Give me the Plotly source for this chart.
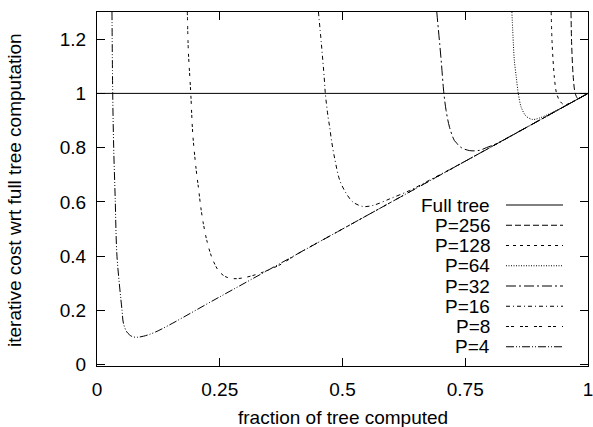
import plotly.graph_objects as go

# ---- data ----
full_x = [0.0, 1.0]
full_y = [1.0, 1.0]

p256_x = [0.9654, 0.9667, 0.970, 0.974, 0.979, 0.985, 1.0]
p256_y = [1.30, 1.182, 1.059, 1.0, 0.982, 0.985, 1.0]

p128_x = [0.925, 0.927, 0.9315, 0.936, 0.943, 0.952, 0.97, 1.0]
p128_y = [1.30, 1.182, 1.059, 1.0, 0.971, 0.958, 0.97, 1.0]

p64_x = [0.845, 0.848, 0.850, 0.854, 0.858, 0.864, 0.874, 0.887, 0.901, 0.95, 1.0]
p64_y = [1.30, 1.182, 1.121, 1.059, 1.0, 0.949, 0.916, 0.904, 0.909, 0.95, 1.0]

p32_x = [0.692, 0.698, 0.701, 0.7065, 0.711, 0.718, 0.728, 0.735, 0.742, 0.759, 0.779, 0.793, 0.813, 0.854, 0.90, 1.0]
p32_y = [1.30, 1.182, 1.121, 1.0, 0.937, 0.875, 0.826, 0.812, 0.800, 0.789, 0.790, 0.800, 0.814, 0.854, 0.90, 1.0]

p16_x = [0.451, 0.457, 0.4627, 0.465, 0.4707, 0.474, 0.4776, 0.4843, 0.4945, 0.508, 0.5215, 0.5419, 0.5622, 0.596, 0.6368, 0.674, 0.75, 1.0]
p16_y = [1.30, 1.182, 1.059, 1.0, 0.912, 0.875, 0.826, 0.758, 0.679, 0.630, 0.599, 0.583, 0.587, 0.611, 0.642, 0.677, 0.75, 1.0]

p8_x = [0.184, 0.186, 0.191, 0.195, 0.2018, 0.2065, 0.2114, 0.2167, 0.2236, 0.2337, 0.2472, 0.2608, 0.2776, 0.298, 0.332, 0.3726, 0.41, 0.5, 0.75, 1.0]
p8_y = [1.30, 1.158, 1.0, 0.851, 0.722, 0.654, 0.580, 0.519, 0.458, 0.396, 0.347, 0.325, 0.317, 0.320, 0.337, 0.368, 0.41, 0.5, 0.75, 1.0]

p4_x = [0.0305, 0.032, 0.034, 0.037, 0.0407, 0.051, 0.054, 0.061, 0.071, 0.081, 0.095, 0.12, 0.25, 0.5, 0.75, 1.0]
p4_y = [1.30, 1.0, 0.80, 0.617, 0.40, 0.20, 0.151, 0.120, 0.104, 0.101, 0.105, 0.121, 0.25, 0.5, 0.75, 1.0]

series_names = ["Full tree", "P=256", "P=128", "P=64", "P=32", "P=16", "P=8", "P=4"]
series_x = [full_x, p256_x, p128_x, p64_x, p32_x, p16_x, p8_x, p4_x]
series_y = [full_y, p256_y, p128_y, p64_y, p32_y, p16_y, p8_y, p4_y]
dashes = ["solid", "6px,3px", "3px,4px", "1px,1.5px", "10px,3px,2px,3px",
          "4px,3px,1px,3px", "3px,2px,3px,6px", "8px,2px,1px,2px,1px,2px"]

x_ticks = [0, 0.25, 0.5, 0.75, 1]
x_tick_labels = ["0", "0.25", "0.5", "0.75", "1"]
y_ticks = [0, 0.2, 0.4, 0.6, 0.8, 1.0, 1.2]
y_tick_labels = ["0", "0.2", "0.4", "0.6", "0.8", "1", "1.2"]

FONT = "Liberation Sans, Arial, sans-serif"
FS = 19

fig = go.Figure()
for name, xs, ys, d in zip(series_names, series_x, series_y, dashes):
    fig.add_trace(go.Scatter(
        x=xs, y=ys, mode="lines", name=name,
        line=dict(color="black", width=1, dash=d,
                  shape="linear" if name == "Full tree" else "spline", smoothing=0.9),
        showlegend=False, cliponaxis=True,
    ))

W, H = 593, 427
L, R, T, B = 97, 5, 12, 61
pw, ph = W - L - R, H - T - B

def px2paper(px, py):
    return (px - L) / pw, (H - B - py) / ph

# manual gnuplot-style legend: text right-aligned, sample line to the right
row0, step = 205, 20.25
for i, (name, d) in enumerate(zip(series_names, dashes)):
    py = row0 + i * step
    tx, ty = px2paper(492, py)
    fig.add_annotation(x=tx, y=ty, xref="paper", yref="paper", text=name,
                       showarrow=False, xanchor="right", yanchor="middle",
                       font=dict(family=FONT, size=FS, color="black"))
    x0, y0 = px2paper(506, py)
    x1, _ = px2paper(563, py)
    fig.add_shape(type="line", xref="paper", yref="paper", x0=x0, x1=x1, y0=y0, y1=y0,
                  line=dict(color="black", width=1, dash=d))

# axis titles
fig.add_annotation(x=px2paper(15, 0)[0], y=px2paper(0, 190)[1], xref="paper", yref="paper",
                   text="iterative cost wrt full tree computation", textangle=-90,
                   showarrow=False, xanchor="center", yanchor="middle",
                   font=dict(family=FONT, size=FS, color="black"))
fig.add_annotation(x=0.5, y=px2paper(0, 417)[1], xref="paper", yref="paper",
                   text="fraction of tree computed",
                   showarrow=False, xanchor="center", yanchor="middle",
                   font=dict(family=FONT, size=FS, color="black"))

axis_common = dict(showline=True, linecolor="black", linewidth=1, mirror="ticks",
                   ticks="inside", ticklen=8, tickcolor="black", tickwidth=1,
                   showgrid=False, zeroline=False, ticklabeloverflow="allow",
                   automargin=False,
                   tickfont=dict(family=FONT, size=FS, color="black"))

fig.update_layout(
    width=W, height=H,
    margin=dict(l=L, r=R, t=T, b=B, autoexpand=False),
    paper_bgcolor="white", plot_bgcolor="white",
    xaxis=dict(range=[0, 1], tickvals=x_ticks, ticktext=x_tick_labels,
               ticklabelstandoff=6, **axis_common),
    yaxis=dict(range=[-0.005, 1.3], tickvals=y_ticks, ticktext=y_tick_labels,
               ticklabelstandoff=6, **axis_common),
)

fig.write_html(
    "out.html",
    config={"displayModeBar": False},
    post_script="document.body.style.margin='0';"
                "document.documentElement.style.overflow='hidden';"
                "document.body.style.overflow='hidden';",
)
